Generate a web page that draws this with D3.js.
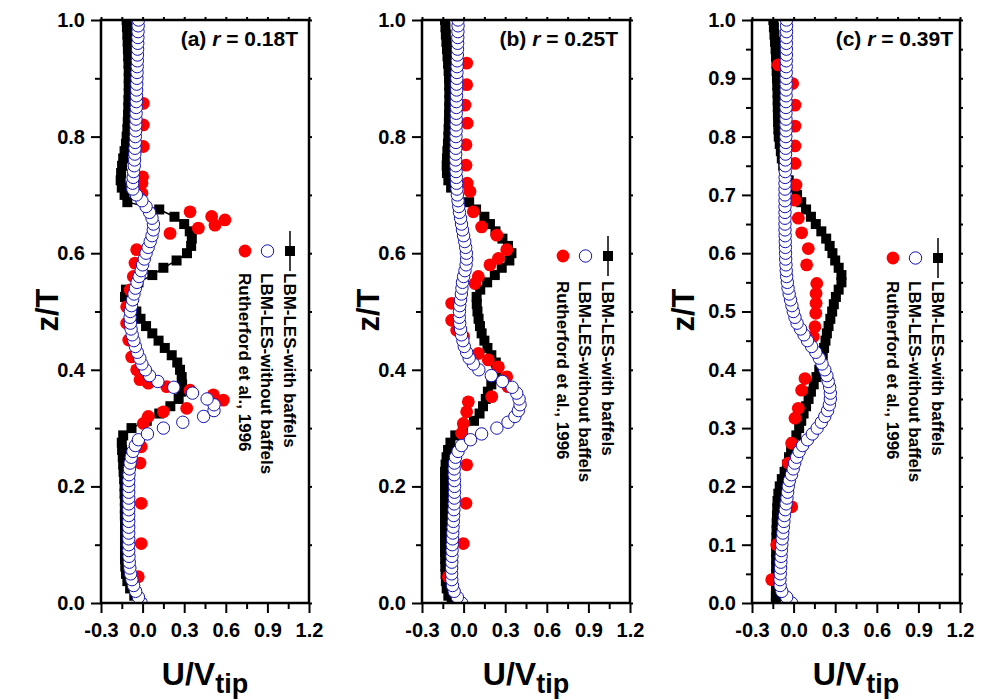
<!DOCTYPE html>
<html>
<head>
<meta charset="utf-8">
<script src="https://cdn.jsdelivr.net/npm/d3@7"></script>
<style>
  body { margin: 0; background: #fff; }
  svg { display: block; font-family: "Liberation Sans", Arial, sans-serif; }
</style>
</head>
<body>
<svg id="chart" width="988" height="700"></svg>
<script>
// ---------------- DATA ----------------
const seriesNames = ["LBM-LES-with baffels", "LBM-LES-without baffels", "Rutherford et al., 1996"];
const panelTitles = ["(a) ", "(b) ", "(c) "];
const panelRadii = [" = 0.18T", " = 0.25T", " = 0.39T"];

const xTickValues = [-0.3, 0.0, 0.3, 0.6, 0.9, 1.2];
const xTickLabels = ["-0.3", "0.0", "0.3", "0.6", "0.9", "1.2"];
const xMinorValues = [-0.15, 0.15, 0.45, 0.75, 1.05];
const yTickValuesAB = [0.0, 0.2, 0.4, 0.6, 0.8, 1.0];
const yTickLabelsAB = ["0.0", "0.2", "0.4", "0.6", "0.8", "1.0"];
const yMinorValuesAB = [0.1, 0.3, 0.5, 0.7, 0.9];
const yTickValuesC = [0.0, 0.1, 0.2, 0.3, 0.4, 0.5, 0.6, 0.7, 0.8, 0.9, 1.0];
const yTickLabelsC = ["0.0", "0.1", "0.2", "0.3", "0.4", "0.5", "0.6", "0.7", "0.8", "0.9", "1.0"];
const yMinorValuesC = [0.05, 0.15, 0.25, 0.35, 0.45, 0.55, 0.65, 0.75, 0.85, 0.95];

// z/T positions of the "with baffles" simulation profile
const zWith = [0,0.0125,0.025,0.0375,0.05,0.0625,0.075,0.0875,0.1,0.1125,
  0.125,0.1375,0.15,0.1625,0.175,0.1875,0.2,0.2125,0.225,0.2375,
  0.25,0.2625,0.275,0.2875,0.3,0.3125,0.325,0.3375,0.35,0.3625,
  0.375,0.3875,0.4,0.4125,0.425,0.4375,0.45,0.4625,0.475,0.4875,
  0.5,0.5125,0.525,0.5375,0.55,0.5625,0.575,0.5875,0.6,0.6125,
  0.625,0.6375,0.65,0.6625,0.675,0.6875,0.7,0.7125,0.725,0.7375,
  0.75,0.7625,0.775,0.7875,0.8,0.8125,0.825,0.8375,0.85,0.8625,
  0.875,0.8875,0.9,0.9125,0.925,0.9375,0.95,0.9625,0.975,0.9875,1];

// z/T positions of the "without baffles" simulation profile
const zWithout = [0,0.01,0.02,0.03,0.04,0.05,0.06,0.07,0.08,0.09,
  0.1,0.11,0.12,0.13,0.14,0.15,0.16,0.17,0.18,0.19,
  0.2,0.21,0.22,0.23,0.24,0.25,0.26,0.27,0.28,0.29,
  0.3,0.31,0.32,0.33,0.34,0.35,0.36,0.37,0.38,0.39,
  0.4,0.41,0.42,0.43,0.44,0.45,0.46,0.47,0.48,0.49,
  0.5,0.51,0.52,0.53,0.54,0.55,0.56,0.57,0.58,0.59,
  0.6,0.61,0.62,0.63,0.64,0.65,0.66,0.67,0.68,0.69,
  0.7,0.71,0.72,0.73,0.74,0.75,0.76,0.77,0.78,0.79,
  0.8,0.81,0.82,0.83,0.84,0.85,0.86,0.87,0.88,0.89,
  0.9,0.91,0.92,0.93,0.94,0.95,0.96,0.97,0.98,0.99,1];

// (a) r = 0.18T
const withA = [-0.01,-0.06,-0.09,-0.11,-0.12,-0.125,-0.127,-0.127,-0.127,-0.127,
  -0.127,-0.127,-0.128,-0.128,-0.128,-0.13,-0.13,-0.133,-0.137,-0.14,
  -0.143,-0.148,-0.15,-0.14,-0.08,0.03,0.12,0.2,0.26,0.28,
  0.285,0.282,0.27,0.25,0.21,0.16,0.115,0.07,0.025,-0.015,
  -0.045,-0.09,-0.127,-0.12,-0.03,0.07,0.15,0.245,0.32,0.35,
  0.355,0.34,0.3,0.23,0.12,-0.11,-0.13,-0.15,-0.158,-0.155,
  -0.148,-0.14,-0.13,-0.12,-0.115,-0.11,-0.107,-0.105,-0.103,-0.102,
  -0.1,-0.1,-0.1,-0.1,-0.102,-0.104,-0.106,-0.108,-0.11,-0.113,-0.115];
const withoutA = [-0.01,-0.03,-0.05,-0.065,-0.077,-0.086,-0.092,-0.096,-0.098,-0.1,
  -0.1,-0.1,-0.1,-0.1,-0.1,-0.1,-0.1,-0.1,-0.1,-0.1,
  -0.1,-0.1,-0.098,-0.095,-0.09,-0.082,-0.07,-0.052,-0.03,0.035,
  0.15,0.29,0.44,0.515,0.515,0.465,0.36,0.225,0.11,0.05,
  0.02,-0.005,-0.02,-0.038,-0.052,-0.063,-0.075,-0.083,-0.088,-0.09,
  -0.088,-0.08,-0.072,-0.062,-0.052,-0.04,-0.025,-0.01,0.0,0.012,
  0.025,0.04,0.055,0.068,0.077,0.078,0.068,0.05,0.025,-0.005,
  -0.045,-0.07,-0.072,-0.068,-0.065,-0.06,-0.058,-0.056,-0.055,-0.053,
  -0.052,-0.05,-0.049,-0.048,-0.047,-0.046,-0.045,-0.044,-0.043,-0.042,
  -0.041,-0.04,-0.039,-0.038,-0.037,-0.036,-0.035,-0.034,-0.033,-0.032,-0.03];
const expZA = [0.045,0.102,0.171,0.24,0.268,0.308,0.32,0.328,0.334,0.348,0.357,0.365,0.371,0.377,0.383,
  0.40,0.422,0.451,0.48,0.508,0.537,0.56,0.583,0.606,0.634,0.643,0.648,0.657,0.663,0.671,
  0.703,0.72,0.731,0.783,0.82,0.857];
const expUA = [-0.031,-0.01,-0.01,-0.019,-0.01,0.005,0.041,0.15,0.318,0.582,0.51,0.342,0.174,0.041,-0.019,
  -0.043,-0.079,-0.1,-0.115,-0.115,-0.09,-0.067,-0.055,-0.043,0.198,0.402,0.522,0.594,0.498,0.342,
  -0.005,-0.005,0.0,0.005,0.005,0.005];

// (b) r = 0.25T
const withB = [-0.086,-0.11,-0.122,-0.128,-0.13,-0.132,-0.133,-0.134,-0.134,-0.134,
  -0.134,-0.134,-0.134,-0.134,-0.134,-0.134,-0.134,-0.134,-0.134,-0.13,
  -0.123,-0.112,-0.095,-0.06,-0.005,0.075,0.115,0.14,0.16,0.175,
  0.2,0.225,0.238,0.232,0.2,0.172,0.15,0.13,0.118,0.108,
  0.1,0.095,0.094,0.12,0.17,0.225,0.275,0.33,0.345,0.32,
  0.28,0.23,0.19,0.15,0.09,0.04,-0.04,-0.09,-0.11,-0.12,
  -0.122,-0.12,-0.117,-0.113,-0.11,-0.108,-0.106,-0.105,-0.104,-0.103,
  -0.103,-0.104,-0.105,-0.108,-0.112,-0.116,-0.12,-0.124,-0.128,-0.131,-0.134];
const withoutB = [-0.014,-0.045,-0.068,-0.08,-0.085,-0.086,-0.086,-0.085,-0.084,-0.083,
  -0.082,-0.08,-0.078,-0.076,-0.074,-0.072,-0.07,-0.068,-0.067,-0.066,
  -0.065,-0.066,-0.068,-0.068,-0.066,-0.058,-0.04,-0.015,0.05,0.13,
  0.24,0.32,0.37,0.395,0.407,0.4,0.383,0.35,0.28,0.2,
  0.11,0.07,0.04,0.022,0.005,-0.005,-0.015,-0.022,-0.028,-0.031,
  -0.03,-0.028,-0.022,-0.016,-0.012,-0.008,0.0,0.01,0.018,0.022,
  0.02,0.015,0.008,0.0,-0.008,-0.015,-0.022,-0.03,-0.035,-0.04,
  -0.045,-0.048,-0.05,-0.052,-0.054,-0.056,-0.057,-0.057,-0.056,-0.055,
  -0.055,-0.054,-0.054,-0.053,-0.053,-0.052,-0.052,-0.051,-0.05,-0.05,
  -0.049,-0.048,-0.047,-0.046,-0.045,-0.044,-0.043,-0.042,-0.041,-0.04,-0.04];
const expZB = [0.045,0.102,0.171,0.237,0.291,0.308,0.328,0.345,0.354,0.371,0.388,0.405,0.417,0.428,0.457,
  0.468,0.485,0.514,0.548,0.56,0.58,0.591,0.606,0.631,0.645,0.671,0.706,0.72,0.751,0.786,
  0.823,0.854,0.889,0.926];
const expUB = [-0.11,-0.002,0.017,0.022,-0.014,-0.002,0.022,0.034,0.203,0.32,0.311,0.251,0.178,0.106,0.0,
  -0.05,-0.086,-0.086,0.082,0.106,0.19,0.251,0.311,0.239,0.13,0.07,0.046,0.026,0.017,0.017,
  0.026,0.01,0.022,0.022];

// (c) r = 0.39T
const withC = [-0.128,-0.128,-0.127,-0.127,-0.126,-0.126,-0.126,-0.126,-0.125,-0.124,
  -0.123,-0.122,-0.12,-0.118,-0.116,-0.11,-0.1,-0.085,-0.065,-0.048,
  -0.033,-0.018,-0.005,0.02,0.04,0.055,0.072,0.09,0.108,0.125,
  0.145,0.165,0.185,0.2,0.21,0.22,0.23,0.24,0.252,0.265,
  0.278,0.29,0.305,0.325,0.345,0.345,0.325,0.3,0.28,0.26,
  0.235,0.2,0.16,0.125,0.09,0.055,0.025,-0.005,-0.035,-0.06,
  -0.075,-0.085,-0.092,-0.1,-0.107,-0.11,-0.112,-0.113,-0.114,-0.115,
  -0.116,-0.118,-0.12,-0.122,-0.124,-0.127,-0.13,-0.134,-0.138,-0.142,-0.146];
const withoutC = [-0.014,-0.05,-0.085,-0.097,-0.098,-0.096,-0.094,-0.092,-0.09,-0.088,
  -0.085,-0.082,-0.078,-0.074,-0.07,-0.066,-0.06,-0.054,-0.048,-0.043,
  -0.038,-0.03,-0.015,-0.003,0.008,0.022,0.04,0.065,0.1,0.135,
  0.17,0.2,0.225,0.245,0.258,0.265,0.265,0.26,0.25,0.24,
  0.225,0.205,0.185,0.16,0.13,0.1,0.075,0.05,0.025,0.01,
  -0.002,-0.012,-0.022,-0.032,-0.04,-0.045,-0.05,-0.053,-0.055,-0.057,
  -0.058,-0.059,-0.06,-0.061,-0.062,-0.062,-0.062,-0.062,-0.062,-0.062,
  -0.062,-0.062,-0.062,-0.061,-0.06,-0.06,-0.059,-0.058,-0.057,-0.056,
  -0.056,-0.055,-0.055,-0.055,-0.055,-0.055,-0.055,-0.054,-0.054,-0.054,
  -0.054,-0.053,-0.053,-0.053,-0.052,-0.052,-0.052,-0.052,-0.051,-0.051,-0.051];
const expZC = [0.04,0.1,0.165,0.24,0.274,0.317,0.334,0.365,0.385,0.457,0.474,0.497,0.514,0.531,0.548,
  0.58,0.608,0.635,0.66,0.691,0.717,0.754,0.784,0.818,0.854,0.891,0.923];
const expUC = [-0.158,-0.122,-0.014,-0.038,-0.014,0.01,0.034,0.058,0.082,0.142,0.154,0.16,0.162,0.162,0.167,
  0.094,0.106,0.058,0.034,0.01,0.017,0.01,0.01,0.01,0.01,-0.007,-0.11];

// ---------------- LAYOUT ----------------
const plotTop = 20, plotBottom = 603, plotWidth = 208;
const panels = [
  { left: 101, withU: withA, withoutU: withoutA, expZ: expZA, expU: expUA,
    yTicks: yTickValuesAB, yLabels: yTickLabelsAB, yMinor: yMinorValuesAB,
    legX: 290, legY: 251, textStart: 22, titleRight: 298, yTitleX: 47 },
  { left: 422, withU: withB, withoutU: withoutB, expZ: expZB, expU: expUB,
    yTicks: yTickValuesAB, yLabels: yTickLabelsAB, yMinor: yMinorValuesAB,
    legX: 608, legY: 256, textStart: 25, titleRight: 618, yTitleX: 368 },
  { left: 752, withU: withC, withoutU: withoutC, expZ: expZC, expU: expUC,
    yTicks: yTickValuesC, yLabels: yTickLabelsC, yMinor: yMinorValuesC,
    legX: 938, legY: 258, textStart: 23, titleRight: 953, yTitleX: 683 }
];

const svg = d3.select("#chart");
const FONT = "'Liberation Sans', Arial, sans-serif";
const BLUE = "#1414b4";

panels.forEach((p, i) => {
  const x = d3.scaleLinear().domain([-0.3, 1.2]).range([p.left, p.left + plotWidth]);
  const y = d3.scaleLinear().domain([0, 1]).range([plotBottom, plotTop]);
  const g = svg.append("g");

  const clipId = "clip" + i;
  svg.append("defs").append("clipPath").attr("id", clipId)
    .append("rect").attr("x", p.left).attr("y", plotTop)
    .attr("width", plotWidth).attr("height", plotBottom - plotTop);

  const styleAxis = (sel) => {
    sel.select(".domain").remove();
    sel.selectAll(".tick line").attr("stroke", "#000").attr("stroke-width", 2);
    sel.selectAll(".tick text").attr("fill", "#000")
      .style("font-family", FONT).style("font-weight", "bold").style("font-size", "20px");
  };
  const fmtX = (d) => xTickLabels[xTickValues.indexOf(d)];
  const fmtY = (d) => p.yLabels[p.yTicks.indexOf(d)];

  g.append("g").attr("transform", `translate(0,${plotBottom})`)
    .call(d3.axisBottom(x).tickValues(xTickValues).tickSize(10).tickPadding(10).tickFormat(fmtX))
    .call(styleAxis);
  g.append("g").attr("transform", `translate(0,${plotBottom})`)
    .call(d3.axisBottom(x).tickValues(xMinorValues).tickSize(6).tickFormat(""))
    .call(styleAxis);
  g.append("g").attr("transform", `translate(${p.left},0)`)
    .call(d3.axisLeft(y).tickValues(p.yTicks).tickSize(10).tickPadding(6).tickFormat(fmtY))
    .call(styleAxis);
  g.append("g").attr("transform", `translate(${p.left},0)`)
    .call(d3.axisLeft(y).tickValues(p.yMinor).tickSize(6).tickFormat(""))
    .call(styleAxis);
  g.append("g").attr("transform", `translate(0,${plotTop})`)
    .call(d3.axisTop(x).tickValues(xTickValues.concat(xMinorValues)).tickSize(3).tickFormat(""))
    .call(styleAxis);
  g.append("g").attr("transform", `translate(${p.left + plotWidth},0)`)
    .call(d3.axisRight(y).tickValues(p.yTicks.concat(p.yMinor)).tickSize(3).tickFormat(""))
    .call(styleAxis);

  const dWith = zWith.map((z, k) => ({ z: z, u: p.withU[k] }));
  const dWithout = zWithout.map((z, k) => ({ z: z, u: p.withoutU[k] }));
  const dExp = p.expZ.map((z, k) => ({ z: z, u: p.expU[k] }));

  const data = g.append("g").attr("clip-path", `url(#${clipId})`);
  data.append("path").datum(dWith)
    .attr("fill", "none").attr("stroke", "#000").attr("stroke-width", 1.5)
    .attr("d", d3.line().x(d => x(d.u)).y(d => y(d.z)));
  data.selectAll("rect.sq").data(dWith).enter().append("rect")
    .attr("x", d => x(d.u) - 5).attr("y", d => y(d.z) - 5)
    .attr("width", 10).attr("height", 10).attr("fill", "#000");
  data.selectAll("circle.exp").data(dExp).enter().append("circle")
    .attr("cx", d => x(d.u)).attr("cy", d => y(d.z)).attr("r", 6.4)
    .attr("fill", "#ff0000");
  data.selectAll("circle.sim").data(dWithout).enter().append("circle")
    .attr("cx", d => x(d.u)).attr("cy", d => y(d.z)).attr("r", 6.2)
    .attr("fill", "#fff").attr("stroke", BLUE).attr("stroke-width", 1);

  g.append("rect").attr("x", p.left).attr("y", plotTop)
    .attr("width", plotWidth).attr("height", plotBottom - plotTop)
    .attr("fill", "none").attr("stroke", "#000").attr("stroke-width", 2.5);

  const t = g.append("text").attr("x", p.titleRight).attr("y", 46)
    .attr("text-anchor", "end").style("font-family", FONT)
    .style("font-weight", "bold").style("font-size", "21px");
  t.append("tspan").text(panelTitles[i]);
  t.append("tspan").style("font-style", "italic").text("r");
  t.append("tspan").text(panelRadii[i]);

  g.append("text").attr("transform", `translate(${p.yTitleX},310) rotate(-90)`)
    .attr("text-anchor", "middle").attr("dy", "0.35em")
    .style("font-family", FONT).style("font-weight", "bold").style("font-size", "31px")
    .text("z/T");
  const xt = g.append("text").attr("x", p.left + plotWidth / 2).attr("y", 685)
    .attr("text-anchor", "middle")
    .style("font-family", FONT).style("font-weight", "bold").style("font-size", "32px");
  xt.append("tspan").text("U/V");
  xt.append("tspan").attr("dy", 8).style("font-size", "27px").text("tip");

  const leg = g.append("g").attr("transform", `translate(${p.legX},${p.legY}) rotate(90)`);
  const gap = 22.5;
  leg.append("line").attr("x1", -20).attr("x2", 20).attr("y1", 0).attr("y2", 0)
    .attr("stroke", "#000").attr("stroke-width", 1.5);
  leg.append("rect").attr("x", -5).attr("y", -5).attr("width", 10).attr("height", 10).attr("fill", "#000");
  leg.append("circle").attr("cx", 0).attr("cy", gap).attr("r", 6.2)
    .attr("fill", "#fff").attr("stroke", BLUE).attr("stroke-width", 1);
  leg.append("circle").attr("cx", 0).attr("cy", 2 * gap).attr("r", 6.4).attr("fill", "#ff0000");
  seriesNames.forEach((name, k) => {
    leg.append("text").attr("x", p.textStart).attr("y", k * gap).attr("dy", "0.36em")
      .style("font-family", FONT).style("font-weight", "bold").style("font-size", "17px")
      .text(name);
  });
});
</script>
</body>
</html>
